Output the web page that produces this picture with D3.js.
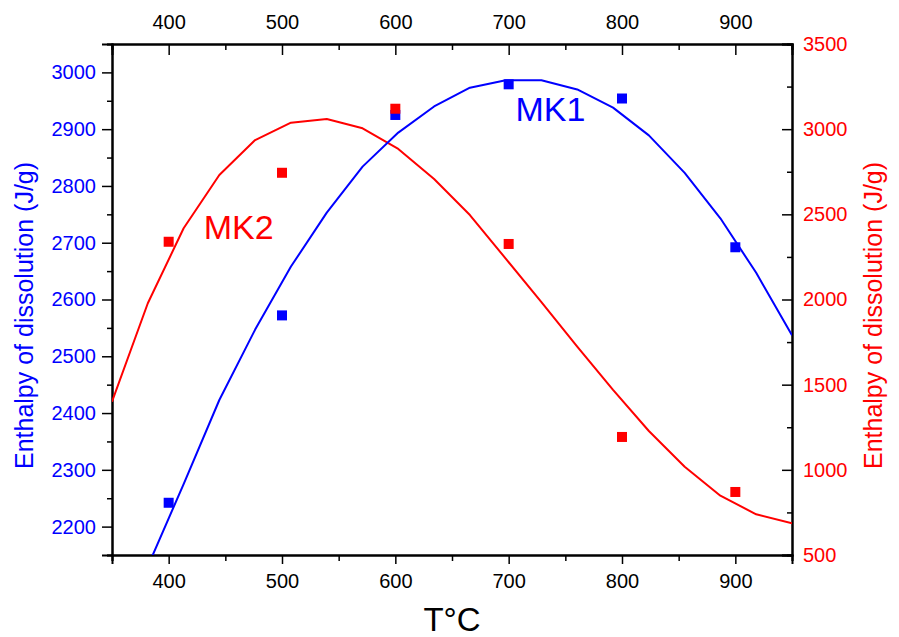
<!DOCTYPE html>
<html>
<head>
<meta charset="utf-8">
<script src="https://cdn.jsdelivr.net/npm/d3@7"></script>
<style>
  body { margin: 0; background: #fff; }
  text { font-family: "Liberation Sans", Arial, sans-serif; }
</style>
</head>
<body>
<script>
// DATA ––––––––––––––––––––––––––––––––––––––––––––––––––––––––––––––––

var temps = [400, 500, 600, 700, 800, 900];
var mk1Points = [2242, 2572, 2925, 2979, 2954, 2692];   // left axis
var mk2Points = [2339, 2744, 3120, 2326, 1193, 870];    // right axis

// fitted curves
var fitTemps = [350, 381.6, 413.2, 444.7, 476.3, 507.9, 539.5, 571.1, 602.6, 634.2,
                665.8, 697.4, 728.9, 760.5, 792.1, 823.7, 855.3, 886.8, 918.4, 950];
var mk1Fit = [1960, 2130, 2275, 2423, 2547, 2658, 2753, 2834, 2894, 2940,
              2973, 2986, 2986, 2970, 2938, 2889, 2823, 2743, 2647, 2537];
var mk2Fit = [1400, 1978, 2418, 2731, 2936, 3038, 3060, 3005, 2884, 2707,
              2496, 2240, 1985, 1723, 1469, 1228, 1018, 848, 739, 686];

var xTicks = [400, 500, 600, 700, 800, 900];
var xMinor = [350, 450, 550, 650, 750, 850, 950];
var leftTicks = [2200, 2300, 2400, 2500, 2600, 2700, 2800, 2900, 3000];
var leftMinor = [2150, 2250, 2350, 2450, 2550, 2650, 2750, 2850, 2950, 3050];
var rightTicks = [500, 1000, 1500, 2000, 2500, 3000, 3500];
var rightMinor = [750, 1250, 1750, 2250, 2750, 3250];

var blue = "#0000ff", red = "#ff0000";

// CHART –––––––––––––––––––––––––––––––––––––––––––––––––––––––––––––––

var W = 899, H = 637;
var margin = {top: 44, right: 107, bottom: 82, left: 112},
    width = W - margin.left - margin.right,
    height = H - margin.top - margin.bottom;

var svg = d3.select("body").append("svg")
    .attr("width", W)
    .attr("height", H);

var g = svg.append("g")
    .attr("transform", "translate(" + margin.left + "," + margin.top + ")");

var x = d3.scaleLinear().domain([350, 950]).range([0, width]);
var yL = d3.scaleLinear().domain([2150, 3050]).range([height, 0]);
var yR = d3.scaleLinear().domain([500, 3500]).range([height, 0]);

g.append("clipPath").attr("id", "clip")
  .append("rect").attr("width", width).attr("height", height);

var styleAxis = function(sel, color) {
  sel.select(".domain").attr("stroke", "#000").attr("stroke-width", 2);
  sel.selectAll(".tick line").attr("stroke", "#000").attr("stroke-width", 1.5);
  sel.selectAll(".tick text")
    .attr("fill", color)
    .attr("font-size", 20)
    .attr("font-family", "'Liberation Sans', Arial, sans-serif");
};

// minor ticks first
g.append("g").attr("transform", "translate(0," + height + ")")
  .call(d3.axisBottom(x).tickValues(xMinor).tickSize(6).tickFormat(""))
  .call(styleAxis, "#000");
g.append("g")
  .call(d3.axisTop(x).tickValues(xMinor).tickSize(-6).tickFormat(""))
  .call(styleAxis, "#000");
g.append("g")
  .call(d3.axisLeft(yL).tickValues(leftMinor).tickSize(5).tickFormat(""))
  .call(styleAxis, blue);
g.append("g").attr("transform", "translate(" + width + ",0)")
  .call(d3.axisRight(yR).tickValues(rightMinor).tickSize(-5).tickFormat(""))
  .call(styleAxis, red);

// major ticks
g.append("g").attr("transform", "translate(0," + height + ")")
  .call(d3.axisBottom(x).tickValues(xTicks).tickSize(9).tickPadding(10).tickFormat(d3.format("d")))
  .call(styleAxis, "#000");
g.append("g")
  .call(d3.axisTop(x).tickValues(xTicks).tickSize(-11).tickPadding(15).tickFormat(d3.format("d")))
  .call(styleAxis, "#000");
g.append("g")
  .call(d3.axisLeft(yL).tickValues(leftTicks).tickSize(10).tickPadding(6).tickFormat(d3.format("d")))
  .call(styleAxis, blue);
g.append("g").attr("transform", "translate(" + width + ",0)")
  .call(d3.axisRight(yR).tickValues(rightTicks).tickSize(-10).tickPadding(11).tickFormat(d3.format("d")))
  .call(styleAxis, red);

// fit lines
var lineL = d3.line().x(function(d) { return x(d[0]); }).y(function(d) { return yL(d[1]); });
var lineR = d3.line().x(function(d) { return x(d[0]); }).y(function(d) { return yR(d[1]); });

var lines = g.append("g").attr("clip-path", "url(#clip)");
lines.append("path")
  .datum(d3.zip(fitTemps, mk2Fit))
  .attr("fill", "none").attr("stroke", red).attr("stroke-width", 2)
  .attr("stroke-linejoin", "round")
  .attr("d", lineR);
lines.append("path")
  .datum(d3.zip(fitTemps, mk1Fit))
  .attr("fill", "none").attr("stroke", blue).attr("stroke-width", 2)
  .attr("stroke-linejoin", "round")
  .attr("d", lineL);

// square markers
var sq = 10;
g.selectAll(".p1").data(d3.zip(temps, mk1Points)).enter().append("rect")
  .attr("x", function(d) { return x(d[0]) - sq / 2; })
  .attr("y", function(d) { return yL(d[1]) - sq / 2; })
  .attr("width", sq).attr("height", sq).attr("fill", blue);
g.selectAll(".p2").data(d3.zip(temps, mk2Points)).enter().append("rect")
  .attr("x", function(d) { return x(d[0]) - sq / 2; })
  .attr("y", function(d) { return yR(d[1]) - sq / 2; })
  .attr("width", sq).attr("height", sq).attr("fill", red);

// series labels
g.append("text").attr("x", x(706)).attr("y", yL(2914))
  .attr("font-size", 34).attr("fill", blue).text("MK1");
g.append("text").attr("x", x(431)).attr("y", yL(2706))
  .attr("font-size", 34).attr("fill", red).text("MK2");

// axis titles
svg.append("text")
  .attr("transform", "translate(33," + (margin.top + height / 2 + 16) + ") rotate(-90)")
  .attr("text-anchor", "middle")
  .attr("font-size", 25).attr("fill", blue)
  .text("Enthalpy of dissolution (J/g)");

svg.append("text")
  .attr("transform", "translate(882," + (margin.top + height / 2 + 16) + ") rotate(-90)")
  .attr("text-anchor", "middle")
  .attr("font-size", 25).attr("fill", red)
  .text("Enthalpy of dissolution (J/g)");

svg.append("text")
  .attr("x", margin.left + width / 2).attr("y", 631)
  .attr("text-anchor", "middle")
  .attr("font-size", 33).attr("fill", "#000")
  .text("T°C");
</script>
</body>
</html>
